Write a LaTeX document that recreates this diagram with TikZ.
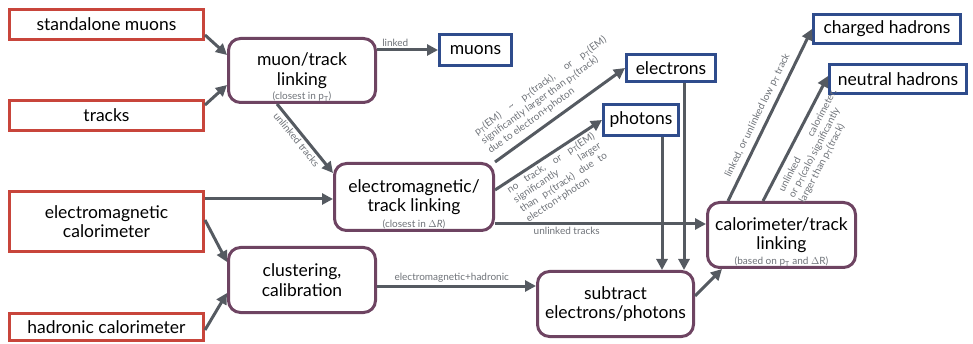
\documentclass[tikz,border=0pt]{standalone}
\usepackage{fontspec}
\setmainfont{Lato}
\usetikzlibrary{arrows.meta}
\definecolor{srcred}{HTML}{C8453B}
\definecolor{outblue}{HTML}{2F4C8C}
\definecolor{procpurple}{HTML}{6E4462}
\definecolor{arrowgray}{HTML}{555A61}
\definecolor{lblgray}{HTML}{6E7278}
\newcommand{\ptx}{p\textsubscript{T}}
\begin{document}
\begin{tikzpicture}[x=1pt,y=-1pt,
  boxfont/.style={font=\fontsize{17.5}{19.5}\selectfont},
  srcbox/.style={draw=srcred, line width=3pt, inner sep=0pt, align=center, boxfont},
  outbox/.style={draw=outblue, line width=3pt, inner sep=0pt, align=center, boxfont},
  procbox/.style={draw=procpurple, line width=3pt, rounded corners=12pt, inner sep=0pt, align=center, boxfont},
  flow/.style={draw=arrowgray, line width=3pt, -{Triangle[length=11pt,width=11pt]}},
  lbl/.style={text=lblgray, font=\fontsize{10}{11.5}\selectfont, inner sep=2pt},
  captxt/.style={text=lblgray, font=\fontsize{10}{11.5}\selectfont, inner sep=0pt, anchor=base}
]
\useasboundingbox (0,0) rectangle (973,344);

% sources
\node[srcbox, minimum width=194pt, minimum height=30pt] (smu) at (106.5,24.5) {standalone muons};
\node[srcbox, minimum width=194pt, minimum height=30pt] (trk) at (106.5,115.5) {tracks};
\node[srcbox, minimum width=194pt, minimum height=60pt] (emc) at (106.5,221.5) {electromagnetic\\calorimeter};
\node[srcbox, minimum width=194pt, minimum height=27pt] (hac) at (106.5,327) {hadronic calorimeter};

% processing
\node[procbox, minimum width=147pt, minimum height=64pt] (mtl) at (302,70.5) {muon/track\\linking};
\node[captxt] (mtlc) at ([yshift=4]mtl.south) {(closest in \ptx)};
\node[procbox, minimum width=159pt, minimum height=67pt] (emtl) at (414,197) {electromagnetic/\\track linking};
\node[captxt] (emtlc) at ([yshift=4]emtl.south) {(closest in $\Delta$\textit{R})};
\node[procbox, minimum width=147pt, minimum height=65pt] (clu) at (302,280) {clustering,\\calibration};
\node[procbox, minimum width=156pt, minimum height=65pt] (sub) at (615.5,304) {subtract\\electrons/photons};
\node[procbox, minimum width=148pt, minimum height=65pt] (ctl) at (781.5,235) {calorimeter/track\\linking};
\node[captxt] (ctlc) at ([yshift=4]ctl.south) {(based on \ptx{} and $\Delta$R)};

% outputs
\node[outbox, minimum width=72pt, minimum height=31pt] (mu) at (475.5,50) {muons};
\node[outbox, minimum width=89pt, minimum height=27pt] (ele) at (671,68) {electrons};
\node[outbox, minimum width=75pt, minimum height=31pt] (pho) at (641,120) {photons};
\node[outbox, minimum width=147pt, minimum height=29pt] (chg) at (887,29) {charged hadrons};
\node[outbox, minimum width=137pt, minimum height=29pt] (neu) at (898,79) {neutral hadrons};

% connectors
\draw[flow] ([yshift=-10.5]smu.east) -- ([yshift=15.5]mtl.west);
\draw[flow] ([yshift=10.5]trk.east) -- ([yshift=-14.5]mtl.west);
\draw[flow] (mtl.east |- mu.west) -- node[lbl, above, pos=0.3]{linked} (mu.west);
\draw[flow] ([xshift=-25]mtl.south) -- node[lbl, sloped, below, pos=0.45]{unlinked tracks} ([yshift=24]emtl.west);
\draw[flow] ([yshift=22.5]emc.east) -- ([yshift=22.5]emc.east -| emtl.west);
\draw[flow] ([yshift=1.5]emc.east) -- ([yshift=18]clu.west);
\draw[flow] ([yshift=-3]hac.east) -- ([yshift=-13]clu.west);
\draw[flow] ([yshift=-6]clu.east) -- node[lbl, above, pos=0.47]{electromagnetic+hadronic} ([yshift=-6]clu.east -| sub.west);
\draw[flow] (emtl.north east) -- node[lbl, sloped, pos=0, anchor=south west, inner xsep=0pt, inner ysep=6pt, align=left]
  {\makebox[160pt][s]{\ptx(EM) \textasciitilde{} \ptx(track), or \ptx(EM)}\\ significantly larger than \ptx(track)\\ due to electron+photon} (ele.west);
\draw[flow] ([yshift=7]emtl.east) -- node[lbl, sloped, pos=0.07, anchor=north west, inner xsep=0pt, inner ysep=2pt, align=left]
  {\makebox[102pt][s]{no track, or \ptx(EM)}\\ \makebox[102pt][s]{significantly larger}\\ \makebox[102pt][s]{than \ptx(track) due to}\\ electron+photon} (pho.west);
\draw[flow] ([yshift=-27]emtl.east) -- node[lbl, below, pos=0.34]{unlinked tracks} ([yshift=-27]emtl.east -| ctl.west);
\draw[flow] ([xshift=13]ele.south) -- ([xshift=13]ele.south |- sub.north);
\draw[flow] ([xshift=21]pho.south) -- ([xshift=21]pho.south |- sub.north);
\draw[flow] ([yshift=8]sub.east) -- ([xshift=16]ctl.south west);
\draw[flow] ([xshift=22]ctl.north west) -- node[lbl, sloped, above, pos=0.47, inner sep=5pt]{linked, or unlinked low \ptx{} track} (chg.west);
\draw[flow] ([xshift=57]ctl.north west) -- node[lbl, sloped, pos=0.11, anchor=north west, inner xsep=0pt, inner ysep=6pt, align=left]
  {\makebox[114pt][s]{unlinked calorimeter,}\\ or \ptx(calo) significantly\\ larger than \ptx(track)} ([yshift=3]neu.west);
\end{tikzpicture}
\end{document}
